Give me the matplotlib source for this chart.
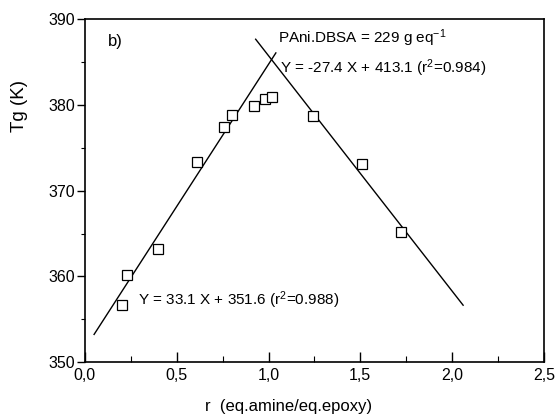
import matplotlib
matplotlib.use("Agg")
import matplotlib.pyplot as plt
import numpy as np
from matplotlib.ticker import MultipleLocator, FuncFormatter

plt.rcParams["font.family"] = ["Liberation Sans", "DejaVu Sans"]
plt.rcParams["mathtext.fontset"] = "custom"
plt.rcParams["mathtext.rm"] = "Liberation Sans"
plt.rcParams["mathtext.it"] = "Liberation Sans:italic"

# glass transition vs stoichiometric ratio
r_values = [0.20, 0.23, 0.40, 0.61, 0.76, 0.80, 0.92, 0.98, 1.02, 1.24, 1.51, 1.72]
tg_values = [356.7, 360.2, 363.2, 373.3, 377.4, 378.8, 379.8, 380.7, 380.9, 378.7, 373.1, 365.2]

# linear fits (slope, intercept) and the span each is drawn over
left_fit = (33.1, 351.6)
left_span = [0.05, 1.04]
right_fit = (-27.4, 413.1)
right_span = [0.93, 2.06]

fig = plt.figure(figsize=(5.55, 4.17), dpi=100)
ax = fig.add_axes([0.153, 0.131, 0.827, 0.824])

for (slope, icpt), span in [(left_fit, left_span), (right_fit, right_span)]:
    xs = np.array(span)
    ax.plot(xs, slope * xs + icpt, color="black", lw=1.0)

ax.plot(r_values, tg_values, "s", ms=7.2, mfc="white", mec="black", mew=0.9,
        linestyle="none")

ax.set_xlim(0, 2.5)
ax.set_ylim(350, 390)

ax.xaxis.set_major_locator(MultipleLocator(0.5))
ax.xaxis.set_minor_locator(MultipleLocator(0.25))
ax.yaxis.set_major_locator(MultipleLocator(10))
ax.yaxis.set_minor_locator(MultipleLocator(5))
ax.xaxis.set_major_formatter(FuncFormatter(lambda v, p: f"{v:.1f}".replace(".", ",")))

ax.tick_params(axis="x", which="major", direction="in", length=7, width=1.0,
               labelsize=11.5, pad=4)
ax.tick_params(axis="x", which="minor", direction="in", length=4, width=0.8)
ax.tick_params(axis="y", which="major", direction="out", length=6, width=1.0,
               labelsize=11.5, pad=1)
ax.tick_params(axis="y", which="minor", direction="out", length=3, width=0.8)

for sp in ax.spines.values():
    sp.set_linewidth(1.2)

ax.text(0.05, 0.935, "b)", transform=ax.transAxes, fontsize=12,
        va="center", ha="left")

fig.text(278 / 555, 1 - 38 / 417, "PAni.DBSA = 229 g eq$^{\\mathregular{-1}}$",
         fontsize=11, va="center", ha="left")
fig.text(280 / 555, 1 - 68 / 417, "Y = -27.4 X + 413.1 (r$^{\\mathregular{2}}$=0.984)",
         fontsize=11, va="center", ha="left")
fig.text(138 / 555, 1 - 300 / 417, "Y = 33.1 X + 351.6 (r$^{\\mathregular{2}}$=0.988)",
         fontsize=11, va="center", ha="left")

fig.text(20 / 555, 1 - 106 / 417, "Tg (K)", rotation=90, fontsize=13.5,
         va="center", ha="center")
fig.text(289 / 555, 1 - 406 / 417, "r  (eq.amine/eq.epoxy)", fontsize=12,
         va="center", ha="center")

fig.savefig("out.png", dpi=100)
